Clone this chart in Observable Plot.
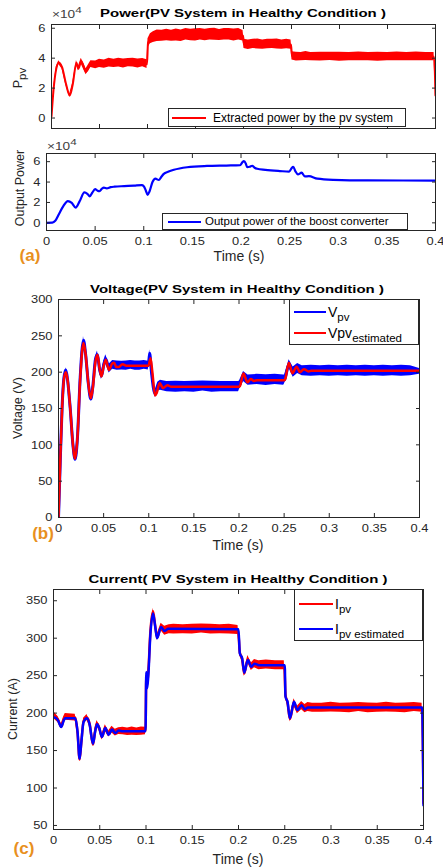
<!DOCTYPE html>
<html><head><meta charset="utf-8">
<script src="https://cdn.jsdelivr.net/npm/d3@7"></script>
<script src="https://cdn.jsdelivr.net/npm/@observablehq/plot@0.6"></script>
<style>
body{margin:0;background:#fff;}
#root{position:relative;width:443px;height:868px;overflow:hidden;font-family:"Liberation Sans",Arial,Helvetica,sans-serif;color:#262626;}
#root svg{position:absolute;left:0;}
.abs{position:absolute;white-space:nowrap;line-height:1;}
.c{transform:translate(-50%,-50%);}
.title{font-weight:bold;font-size:11.5px;color:#000;transform:translate(-50%,-50%) scaleX(1.3);}
.ylab{transform:translate(-50%,-50%) rotate(-90deg);font-size:12.5px;}
.xlab{font-size:14px;}
.tag{font-weight:bold;font-size:17px;color:#E8901E;}
.exp{font-size:10.5px;color:#404040;transform-origin:0 50%;transform:scaleX(1.3);}
.legend{position:absolute;border:1px solid #262626;background:#fff;box-sizing:border-box;}
.sw{position:absolute;height:2px;}
.lt{position:absolute;white-space:nowrap;line-height:1;transform:translateY(-50%);}
sub{font-size:11.5px;vertical-align:-4px;line-height:0;}
</style>
</head><body>
<div id="root"></div>
<script>
// ---------- tick values / labels ----------
const xTicks = [0, 0.05, 0.1, 0.15, 0.2, 0.25, 0.3, 0.35, 0.4];
const xTickLabels = ["0", "0.05", "0.1", "0.15", "0.2", "0.25", "0.3", "0.35", "0.4"];
const powerTicks = [0, 2, 4, 6];               // ×10^4
const voltageTicks = [0, 50, 100, 150, 200, 250, 300];
const currentTicks = [50, 100, 150, 200, 250, 300, 350];

// ---------- (a) top: extracted PV power (×10^4 W) ----------
const ppvTime = [0, 0.002, 0.005, 0.0076, 0.011, 0.015, 0.019, 0.022, 0.026, 0.028,
  0.031, 0.036, 0.041, 0.046, 0.05, 0.055, 0.06, 0.065, 0.07, 0.075, 0.08, 0.085, 0.09, 0.095, 0.0995,
  0.1005, 0.103, 0.106, 0.11, 0.115, 0.12, 0.125, 0.13, 0.135, 0.14, 0.145, 0.15, 0.155, 0.16, 0.165, 0.17, 0.175, 0.18, 0.185, 0.19, 0.195, 0.1995,
  0.2005, 0.205, 0.21, 0.215, 0.22, 0.225, 0.23, 0.235, 0.24, 0.245, 0.2495,
  0.2505, 0.255, 0.26, 0.265, 0.27, 0.28, 0.29, 0.3, 0.31, 0.32, 0.33, 0.34, 0.35, 0.36, 0.37, 0.38, 0.39, 0.3985,
  0.4];
const ppvValue = [0.1, 1.8, 3.3, 3.7, 3.4, 2.3, 1.5, 2.2, 3.7, 3.3,
  3.8, 3.1, 3.6, 3.55, 3.65, 3.6, 3.7, 3.65, 3.7, 3.65, 3.7, 3.7, 3.65, 3.7, 3.6,
  5.0, 5.3, 5.4, 5.5, 5.5, 5.55, 5.5, 5.55, 5.5, 5.6, 5.55, 5.55, 5.6, 5.55, 5.6, 5.6, 5.55, 5.6, 5.6, 5.55, 5.6, 5.5,
  4.95, 4.9, 4.95, 4.95, 4.9, 4.95, 4.95, 4.95, 4.9, 4.95, 4.9,
  4.15, 4.1, 4.1, 4.15, 4.1, 4.1, 4.12, 4.1, 4.1, 4.12, 4.1, 4.1, 4.1, 4.12, 4.1, 4.12, 4.1, 4.1,
  1.5];
const ppvNoise = [0.1, 0.1, 0.12, 0.12, 0.12, 0.12, 0.12, 0.12, 0.15, 0.15,
  0.2, 0.2, 0.22, 0.26, 0.28, 0.27, 0.29, 0.28, 0.29, 0.3, 0.28, 0.29, 0.3, 0.28, 0.29,
  0.3, 0.34, 0.36, 0.38, 0.37, 0.39, 0.37, 0.4, 0.38, 0.39, 0.38, 0.41, 0.38, 0.39, 0.38, 0.4, 0.37, 0.39, 0.38, 0.4, 0.38, 0.35,
  0.31, 0.32, 0.31, 0.33, 0.31, 0.32, 0.31, 0.33, 0.31, 0.32, 0.31,
  0.28, 0.29, 0.28, 0.3, 0.28, 0.29, 0.28, 0.3, 0.28, 0.29, 0.28, 0.3, 0.28, 0.3, 0.28, 0.29, 0.28, 0.28,
  0.1];

// ---------- (a) bottom: boost converter output power (×10^4 W) ----------
const outTime = [0, 0.006, 0.009, 0.013, 0.017, 0.022, 0.026, 0.030, 0.034, 0.039, 0.042, 0.0445, 0.047, 0.050, 0.0525, 0.0545, 0.057, 0.059, 0.062, 0.066, 0.07, 0.08, 0.09, 0.098,
  0.1, 0.102, 0.104, 0.106, 0.109, 0.112, 0.1155, 0.118, 0.1206, 0.125, 0.131, 0.1446, 0.165, 0.185, 0.199,
  0.2015, 0.203, 0.205, 0.2063, 0.209, 0.2115, 0.214, 0.2167, 0.225, 0.24, 0.2495,
  0.252, 0.2537, 0.256, 0.2585, 0.2623, 0.2656, 0.2698, 0.2785, 0.295, 0.33, 0.4];
const outValue = [0, 0.02, 0.2, 0.9, 1.6, 2.13, 1.95, 1.5, 2.1, 2.98, 2.85, 2.6, 2.95, 3.3, 3.15, 3.1, 3.35, 3.45, 3.38, 3.5, 3.55, 3.6, 3.65, 3.7,
  3.6, 3.2, 2.75, 3.1, 4.0, 4.33, 4.2, 4.5, 4.8, 5.0, 5.2, 5.45, 5.58, 5.62, 5.65,
  5.95, 6.05, 5.8, 5.47, 5.5, 5.6, 5.4, 5.3, 5.2, 5.08, 5.02,
  5.35, 5.5, 5.05, 4.75, 4.92, 4.55, 4.58, 4.33, 4.22, 4.16, 4.15];

// ---------- (b) voltage ----------
const vEstTime = [0, 0.002, 0.004, 0.006, 0.0081, 0.010, 0.013, 0.016, 0.0184, 0.021, 0.024, 0.0277, 0.030, 0.033, 0.0358, 0.038, 0.041, 0.0432, 0.0455, 0.0476,
  0.050, 0.0524, 0.056, 0.0595, 0.0616, 0.064, 0.0665, 0.0709, 0.075, 0.0997,
  0.102, 0.104, 0.107, 0.109, 0.112, 0.1159, 0.1207, 0.125, 0.2,
  0.201, 0.2049, 0.2093, 0.213, 0.2167, 0.22, 0.25,
  0.251, 0.2553, 0.2591, 0.2639, 0.2675, 0.272, 0.277, 0.28, 0.4];
const vEstValue = [0, 80, 150, 190, 200, 190, 150, 100, 81, 110, 190, 240, 225, 185, 164, 178, 215, 224, 205, 194,
  208, 217, 203, 212, 213, 207, 207, 211, 209, 209,
  219, 200, 168, 172, 185, 178, 182, 180, 180,
  181, 198, 186, 190.5, 188, 189, 189,
  190, 213, 198.5, 207.5, 200, 204, 201, 202, 202];
const vpvTime = [0, 0.002, 0.004, 0.006, 0.0081, 0.010, 0.013, 0.016, 0.0184, 0.021, 0.024,
  0.0277, 0.030, 0.033, 0.0358, 0.038, 0.041, 0.0432, 0.0455, 0.0476, 0.050, 0.0524, 0.056,
  0.06, 0.065, 0.07, 0.075, 0.08, 0.085, 0.09, 0.095, 0.0995,
  0.101, 0.103, 0.107, 0.110, 0.113, 0.12, 0.13, 0.14, 0.15, 0.16, 0.17, 0.18, 0.19, 0.1995,
  0.2005, 0.205, 0.21, 0.22, 0.23, 0.24, 0.2495,
  0.2505, 0.2555, 0.26, 0.265, 0.27, 0.28, 0.29, 0.3, 0.31, 0.32, 0.33, 0.34, 0.35, 0.36, 0.37, 0.38, 0.39, 0.4];
const vpvValue = [0, 80, 152, 192, 203, 190, 150, 100, 80, 110, 192,
  244, 225, 185, 163, 180, 218, 224, 204, 195, 209, 218, 205,
  210, 209, 209, 209, 210, 209, 209, 210, 209,
  226, 200, 170, 180, 182, 180, 180, 180, 180, 181, 180, 180, 180, 180,
  182, 194, 189, 190, 189, 190, 189,
  190, 211, 200, 205, 202, 202, 202, 202, 202, 202, 202, 202, 202, 202, 202, 202, 202, 201];
const vpvNoise = [2, 2, 2, 2, 3, 2, 2, 2, 3, 2, 3,
  5, 3, 3, 3, 4, 4, 5, 5, 5, 6, 6, 6,
  6, 6.5, 6, 6.5, 6, 6.5, 6.5, 6, 6,
  5, 5, 5, 6, 7, 7, 7.5, 7, 7.5, 7, 7.5, 7, 7, 7,
  6, 7, 7, 7, 7.5, 7, 7,
  6, 6, 7, 7, 7, 7.5, 7, 7.5, 7, 7.5, 7, 7.5, 7, 7.5, 7, 7.5, 7, 4];

// ---------- (c) current ----------
const iEstTime = [0, 0.0013, 0.005, 0.0083, 0.011, 0.0127, 0.0235, 0.026, 0.0282, 0.030, 0.0325, 0.0362, 0.039, 0.0427, 0.045, 0.047, 0.0495, 0.0524, 0.056, 0.0596, 0.0632, 0.0668, 0.0704, 0.075, 0.0995,
  0.1003, 0.1012, 0.1025, 0.1047, 0.1076, 0.110, 0.112, 0.1163, 0.1202, 0.124, 0.2,
  0.2014, 0.204, 0.2062, 0.2101, 0.2138, 0.2173, 0.222, 0.25,
  0.2508, 0.253, 0.2556, 0.26, 0.2636, 0.2683, 0.2718, 0.275, 0.3985, 0.4];
const iEstValue = [194, 194, 190, 181.5, 190, 193, 193, 175, 139, 160, 188, 193, 185, 159, 175, 185, 180, 168, 180, 171, 178, 173.4, 176.6, 175.7, 175.7,
  255, 233, 250, 304, 333, 315, 300, 315, 309.5, 312.5, 312,
  280, 273, 254, 271, 262, 266, 264, 264,
  222, 215, 193, 215, 204, 210.5, 205, 207.5, 207.5, 77];
const ipvTime = [0, 0.0013, 0.005, 0.0083, 0.011, 0.0127, 0.0235, 0.026, 0.0282, 0.030, 0.0325, 0.0362, 0.039, 0.0427, 0.045, 0.047, 0.0495, 0.0524, 0.056, 0.0596, 0.0632, 0.0668, 0.0704, 0.075, 0.08, 0.085, 0.09, 0.095, 0.0995,
  0.1003, 0.1012, 0.1025, 0.1047, 0.1076, 0.110, 0.112, 0.1163, 0.1202, 0.125, 0.13, 0.14, 0.15, 0.16, 0.17, 0.18, 0.19, 0.1995,
  0.2014, 0.204, 0.2062, 0.2101, 0.2138, 0.2173, 0.222, 0.23, 0.24, 0.2495,
  0.2508, 0.253, 0.2556, 0.26, 0.2636, 0.2683, 0.2718, 0.275, 0.28, 0.29, 0.3, 0.31, 0.32, 0.33, 0.34, 0.35, 0.36, 0.37, 0.38, 0.39, 0.3985, 0.4];
const ipvValue = [195, 196, 191, 182, 191, 195, 194, 174, 138, 160, 189, 194, 186, 158, 176, 186, 180, 168, 180, 172, 178, 174, 176, 176, 175, 176, 175, 176, 176,
  250, 238, 255, 308, 336, 316, 301, 315, 310, 312, 312, 312, 312, 313, 312, 312, 312, 311,
  281, 272, 253, 272, 262, 266, 264, 265, 264, 264,
  224, 214, 192, 214, 204, 210, 206, 208, 207, 207, 208, 207, 207, 208, 207, 207, 208, 207, 207, 208, 207, 80];
const ipvNoise = [4, 4.5, 4, 3, 4, 4.5, 4.5, 3, 3, 3, 4, 4, 4, 3, 4, 4, 4, 4, 4.5, 4, 4.5, 4.5, 4.5, 5, 5, 5.5, 5, 5.5, 5,
  3, 3, 3, 3, 4, 4, 4, 5, 6, 6, 6.5, 6, 6.5, 6, 6.5, 6, 6.5, 6,
  4, 4, 4, 5, 5, 5.5, 6, 6, 6, 6,
  4, 4, 4, 5, 5, 5.5, 5.5, 6, 6, 6, 6.5, 6, 6.5, 6, 6.5, 6, 6.5, 6, 6.5, 6, 6, 2];

// ---------- build tables ----------
function table(name, t, v, n) {
  if (t.length !== v.length || (n && n.length !== t.length))
    throw new Error(name + " length mismatch: " + t.length + " / " + v.length + " / " + (n ? n.length : "-"));
  return t.map((d, i) => ({t: d, v: v[i], lo: n ? v[i] - n[i] : v[i], hi: n ? v[i] + n[i] : v[i]}));
}
const ppv = table("ppv", ppvTime, ppvValue, ppvNoise);
const pout = table("pout", outTime, outValue);
const vEst = table("vEst", vEstTime, vEstValue);
const vpv = table("vpv", vpvTime, vpvValue, vpvNoise);
const iEst = table("iEst", iEstTime, iEstValue);
const ipv = table("ipv", ipvTime, ipvValue, ipvNoise);

const RED = "#ff0000", BLUE = "#0000ff", AX = "#262626";
const root = document.getElementById("root");
const xfmt = d => xTickLabels[xTicks.indexOf(d)] ?? "";

function stretchText(svg, s) {
  svg.querySelectorAll("text").forEach(t => {
    const x = +(t.getAttribute("x") || 0);
    const tr = t.getAttribute("transform") || "";
    t.setAttribute("transform", `${tr} translate(${x},0) scale(${s},1) translate(${-x},0)`);
  });
}

function panel({top, height, mt, mb, ml, mr, ydomain, yticks, xlabels, marks}) {
  const svg = Plot.plot({
    width: 443, height,
    marginTop: mt, marginBottom: mb, marginLeft: ml, marginRight: mr,
    style: {fontFamily: '"Liberation Sans", Arial, Helvetica, sans-serif', fontSize: "11.5px", color: AX, background: "transparent", overflow: "visible"},
    x: {domain: [0, 0.4]},
    y: {domain: ydomain},
    marks: [
      ...marks,
      Plot.frame({stroke: AX, strokeWidth: 1}),
      Plot.axisX(xTicks, {anchor: "bottom", tickSize: -4, tickPadding: 10, tickFormat: xlabels ? xfmt : () => "", label: null, stroke: AX}),
      Plot.axisX(xTicks, {anchor: "top", tickSize: -4, tickFormat: () => "", label: null, stroke: AX}),
      Plot.axisY(yticks, {anchor: "left", tickSize: -4, tickPadding: 10, label: null, stroke: AX}),
      Plot.axisY(yticks, {anchor: "right", tickSize: -4, tickFormat: () => "", label: null, stroke: AX})
    ]
  });
  stretchText(svg, 1.12);
  svg.style.top = top + "px";
  root.appendChild(svg);
}

const C = "monotone-x";
// (a) top
panel({top: 0, height: 140, mt: 24, mb: 12, ml: 51, mr: 8, ydomain: [-0.7, 6.25], yticks: powerTicks, xlabels: false,
  marks: [
    Plot.areaY(ppv, {x: "t", y1: "lo", y2: "hi", fill: RED, curve: "linear", clip: true}),
    Plot.lineY(ppv, {x: "t", y: "v", stroke: RED, strokeWidth: 2, curve: C, clip: true})
  ]});
// (a) bottom
panel({top: 140, height: 110, mt: 13, mb: 20, ml: 46, mr: 8, ydomain: [-0.75, 6.8], yticks: powerTicks, xlabels: true,
  marks: [
    Plot.lineY(pout, {x: "t", y: "v", stroke: BLUE, strokeWidth: 2.2, curve: C, clip: true})
  ]});
// (b)
panel({top: 280, height: 257, mt: 19, mb: 20, ml: 58, mr: 24, ydomain: [0, 300], yticks: voltageTicks, xlabels: true,
  marks: [
    Plot.areaY(vpv, {x: "t", y1: "lo", y2: "hi", fill: BLUE, curve: "linear", clip: true}),
    Plot.lineY(vpv, {x: "t", y: "v", stroke: BLUE, strokeWidth: 3, curve: C, clip: true}),
    Plot.lineY(vEst, {x: "t", y: "v", stroke: RED, strokeWidth: 2.5, curve: C, clip: true})
  ]});
// (c)
panel({top: 560, height: 289, mt: 29, mb: 20, ml: 53, mr: 20, ydomain: [44.6, 365], yticks: currentTicks, xlabels: true,
  marks: [
    Plot.areaY(ipv, {x: "t", y1: "lo", y2: "hi", fill: RED, curve: "linear", clip: true}),
    Plot.lineY(ipv, {x: "t", y: "v", stroke: RED, strokeWidth: 2.5, curve: C, clip: true}),
    Plot.lineY(iEst, {x: "t", y: "v", stroke: BLUE, strokeWidth: 2.5, curve: C, clip: true})
  ]});

// ---------- text overlays ----------
function put(html, x, y, cls, center = true) {
  const d = document.createElement("div");
  d.className = "abs " + cls + (center ? " c" : "");
  d.style.left = x + "px"; d.style.top = y + "px";
  d.innerHTML = html;
  root.appendChild(d);
  return d;
}
put("Power(PV System in Healthy Condition )", 243, 14, "title", false);
put("Voltage(PV System in Healthy Condition )", 237, 290, "title", false);
put("Current( PV System in Healthy Condition )", 238, 580, "title", false);

put("P<sub>pv</sub>", 18, 78, "ylab", false);
put("Output Power", 20, 188, "ylab", false);
put("Voltage (V)", 18, 408, "ylab", false);
put("Current (A)", 13, 709, "ylab", false);

put("Time (s)", 239, 256, "xlab");
put("Time (s)", 238, 545, "xlab");
put("Time (s)", 238, 859, "xlab");

put("(a)", 30, 255, "tag");
put("(b)", 43, 533, "tag");
put("(c)", 24, 848, "tag");

put("&times;10<sup style='font-size:9px;vertical-align:5px;line-height:0'>4</sup>", 52, 9, "exp", false);
put("&times;10<sup style='font-size:9px;vertical-align:5px;line-height:0'>4</sup>", 47, 141, "exp", false);

function legend(x, y, w, h, entries, sw0, sw1, tx, fs) {
  const L = document.createElement("div");
  L.className = "legend";
  Object.assign(L.style, {left: x + "px", top: y + "px", width: w + "px", height: h + "px"});
  for (const e of entries) {
    const s = document.createElement("div");
    s.className = "sw";
    Object.assign(s.style, {left: (sw0 - x) + "px", width: (sw1 - sw0) + "px", top: (e.y - y - 1) + "px", background: e.color});
    L.appendChild(s);
    const t = document.createElement("div");
    t.className = "lt";
    Object.assign(t.style, {left: (tx - x) + "px", top: (e.y - y) + "px", fontSize: fs + "px", color: "#000"});
    t.innerHTML = e.label;
    L.appendChild(t);
  }
  root.appendChild(L);
}
legend(167.7, 108.3, 238, 18.4, [{y: 117.5, color: RED, label: "Extracted power by the pv system"}], 171, 205, 212, 12);
legend(162, 212.7, 245.7, 17.3, [{y: 221.3, color: BLUE, label: "Output power of the boost converter"}], 167, 200, 204, 11.5);
legend(289, 299, 130, 46, [
  {y: 310.7, color: BLUE, label: "V<sub>pv</sub>"},
  {y: 332, color: RED, label: "Vpv<sub>estimated</sub>"}], 293, 325, 327, 14);
legend(294, 589.3, 128.7, 51.7, [
  {y: 603, color: RED, label: "I<sub>pv</sub>"},
  {y: 627.7, color: BLUE, label: "I<sub>pv estimated</sub>"}], 297.7, 331.7, 334, 14);
</script>
</body></html>
